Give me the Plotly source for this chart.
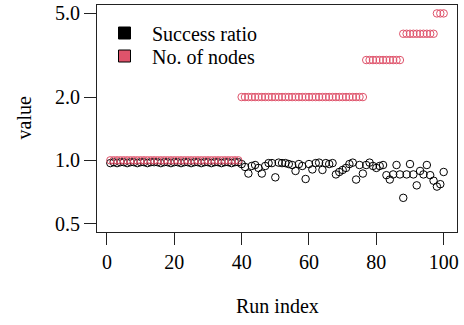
import plotly.graph_objects as go
import math

run_index = list(range(1, 101))

success_ratio = [
    0.97, 0.98, 0.97, 0.98, 0.98, 0.97, 0.98, 0.98, 0.97, 0.98,
    0.98, 0.97, 0.98, 0.98, 0.98, 0.97, 0.98, 0.98, 0.97, 0.98,
    0.98, 0.97, 0.98, 0.98, 0.97, 0.98, 0.98, 0.97, 0.98, 0.98,
    0.97, 0.98, 0.98, 0.97, 0.98, 0.98, 0.97, 0.98, 0.98,
    0.96, 0.93, 0.865, 0.94, 0.95, 0.92, 0.865, 0.94, 0.97, 0.97,
    0.83, 0.975, 0.97, 0.97, 0.96, 0.95, 0.89, 0.96, 0.94, 0.815,
    0.96, 0.905, 0.97, 0.975, 0.90, 0.97, 0.96, 0.97, 0.857, 0.88,
    0.90, 0.92, 0.96, 0.975, 0.81, 0.95, 0.865, 0.95, 0.975, 0.94,
    0.92, 0.94, 0.95, 0.85, 0.81, 0.857, 0.95, 0.857, 0.663, 0.857,
    0.96, 0.857, 0.76, 0.89, 0.857, 0.95, 0.85, 0.80, 0.75, 0.77,
    0.88,
]

num_nodes = [
    1, 1, 1, 1, 1, 1, 1, 1, 1, 1,
    1, 1, 1, 1, 1, 1, 1, 1, 1, 1,
    1, 1, 1, 1, 1, 1, 1, 1, 1, 1,
    1, 1, 1, 1, 1, 1, 1, 1, 1,
    2, 2, 2, 2, 2, 2, 2, 2, 2, 2,
    2, 2, 2, 2, 2, 2, 2, 2, 2, 2,
    2, 2, 2, 2, 2, 2, 2, 2, 2, 2,
    2, 2, 2, 2, 2, 2, 2,
    3, 3, 3, 3, 3, 3, 3, 3, 3, 3, 3,
    4, 4, 4, 4, 4, 4, 4, 4, 4, 4,
    5, 5, 5,
]

series_names = ["Success ratio", "No. of nodes"]
series_colors = ["#000000", "#DF536B"]

x_ticks = [0, 20, 40, 60, 80, 100]
y_ticks = [0.5, 1.0, 2.0, 5.0]
y_tick_labels = ["0.5", "1.0", "2.0", "5.0"]

FONT = "Liberation Serif, Times New Roman, serif"
FS = 20

fig = go.Figure()

for vals, name, col in zip([success_ratio, num_nodes], series_names, series_colors):
    fig.add_trace(go.Scatter(
        x=run_index, y=vals, mode="markers", showlegend=False,
        marker=dict(symbol="circle-open", size=7.5, color=col, line=dict(width=1, color=col)),
        name=name,
    ))

for name, col, lg in zip(series_names, series_colors, ["legend", "legend2"]):
    fig.add_trace(go.Scatter(
        x=[None], y=[None], mode="markers", name=name, showlegend=True, legend=lg,
        marker=dict(symbol="square", size=12, color=col, line=dict(width=1, color="#000000")),
    ))

xmin, xmax = 1, 100
xpad = 0.04 * (xmax - xmin)
ylo, yhi = math.log10(0.5), math.log10(5.0)
ypad = 0.04 * (yhi - ylo)

PLOT_TOP, PLOT_BOT, PLOT_H = 5, 232, 227

def legend_cfg(center_px):
    return dict(
        x=0.0, y=(PLOT_BOT - center_px) / PLOT_H, xanchor="left", yanchor="middle",
        bgcolor="rgba(0,0,0,0)", font=dict(size=FS, family=FONT),
        itemwidth=45,
    )

fig.update_layout(
    width=464, height=325,
    margin=dict(l=97, r=7, t=5, b=93, autoexpand=False),
    paper_bgcolor="white", plot_bgcolor="white",
    font=dict(family=FONT, size=FS, color="black"),
    xaxis=dict(
        range=[xmin - xpad, xmax + xpad], tickvals=x_ticks, automargin=False,
        ticks="outside", ticklen=12, tickwidth=1, tickcolor="#222",
        showline=True, mirror=True, linecolor="#222", linewidth=1,
        showgrid=False, zeroline=False, tickfont=dict(size=FS),
    ),
    yaxis=dict(
        type="log", range=[ylo - ypad, yhi + ypad], automargin=False,
        tickvals=y_ticks, ticktext=y_tick_labels,
        ticks="outside", ticklen=12, tickwidth=1, tickcolor="#222",
        showline=True, mirror=True, linecolor="#222", linewidth=1,
        showgrid=False, zeroline=False, tickfont=dict(size=FS),
    ),
    legend=legend_cfg(33),
    legend2=legend_cfg(56),
    annotations=[
        dict(text="Run index", x=0.5, y=(PLOT_BOT - 306) / PLOT_H, xref="paper", yref="paper",
             showarrow=False, xanchor="center", yanchor="middle", font=dict(size=FS)),
        dict(text="value", x=(23 - 97) / 360, y=0.5, xref="paper", yref="paper",
             showarrow=False, xanchor="center", yanchor="middle", textangle=-90, font=dict(size=FS)),
    ],
)

fig.write_html(
    "out.html",
    config={"displayModeBar": False},
    post_script="document.body.style.margin='0';document.body.style.padding='0';",
)
